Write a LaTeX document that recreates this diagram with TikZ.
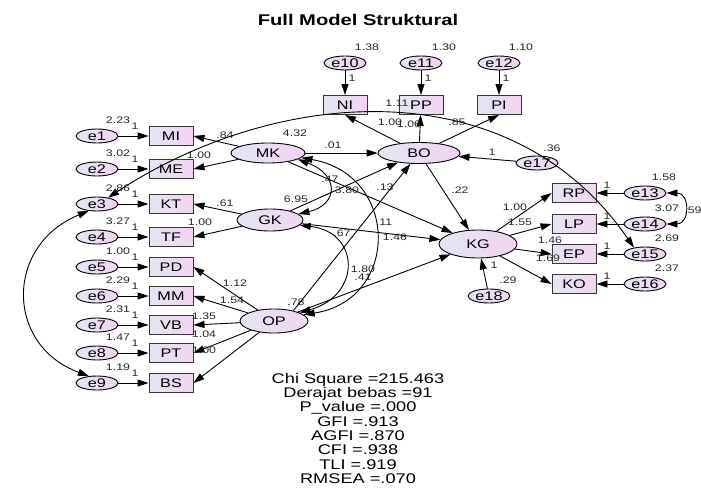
\documentclass[tikz,border=0pt]{standalone}
\usepackage{fontspec}
\setmainfont{Liberation Sans}[FakeStretch=1.3]
\usepackage{xcolor}
\definecolor{lavleft}{RGB}{228,230,242}
\definecolor{lavright}{RGB}{242,212,242}
\definecolor{boxgray}{RGB}{55,55,55}
\definecolor{numgray}{RGB}{40,40,40}
\usepackage{tikz}
\usetikzlibrary{arrows.meta, shapes.geometric, positioning}

\begin{document}
\begin{tikzpicture}[x=1pt, y=-1pt,
  latent/.style={ellipse, draw=black, line width=0.9pt, left color=lavleft, right color=lavright, inner sep=0pt, font=\fontsize{12.5}{14}\selectfont},
  obs/.style={draw=boxgray, line width=0.9pt, left color=lavleft, right color=lavright, minimum width=44pt, minimum height=19pt, inner sep=0pt, font=\fontsize{12.5}{14}\selectfont},
  err/.style={ellipse, draw=black, line width=0.9pt, left color=lavleft, right color=lavright, minimum width=42pt, minimum height=14pt, inner sep=0pt, font=\fontsize{12.5}{14}\selectfont},
  num/.style={font=\fontsize{9.5}{10}\selectfont, text=numgray, inner sep=0pt},
  reg/.style={->, line width=0.9pt},
  cov/.style={<->, line width=0.9pt},
  >={Triangle[length=11pt, width=7pt]}
]
\useasboundingbox (0,0) rectangle (701,487);
\node[font=\bfseries\fontsize{15.5}{17}\selectfont] (title) at (358,20) {Full Model Struktural};

% latent variables
\node[latent, minimum width=74pt, minimum height=20pt] (MK) at (268,153) {MK};
\node[latent, minimum width=82pt, minimum height=21pt] (BO) at (419,153) {BO};
\node[latent, minimum width=66pt, minimum height=22pt] (GK) at (270,220) {GK};
\node[latent, minimum width=78pt, minimum height=28pt] (KG) at (478,244) {KG};
\node[latent, minimum width=68pt, minimum height=24pt] (OP) at (274,321) {OP};

% left indicators
\node[obs] (MI) at (171,136) {MI};
\node[obs] (ME) at (171,169) {ME};
\node[obs] (KT) at (171,204) {KT};
\node[obs] (TF) at (171,237) {TF};
\node[obs] (PD) at (171,267) {PD};
\node[obs] (MM) at (171,296) {MM};
\node[obs] (VB) at (171,325) {VB};
\node[obs] (PT) at (171,353) {PT};
\node[obs] (BS) at (171,383) {BS};
\node[err] (e1) at (97,136) {e1};
\node[err] (e2) at (97,169) {e2};
\node[err] (e3) at (97,204) {e3};
\node[err] (e4) at (97,237) {e4};
\node[err] (e5) at (97,267) {e5};
\node[err] (e6) at (97,296) {e6};
\node[err] (e7) at (97,325) {e7};
\node[err] (e8) at (97,353) {e8};
\node[err] (e9) at (97,383) {e9};
\node[num] (v1) at (118,120) {2.23};
\node[num] (v2) at (118,153) {3.02};
\node[num] (v3) at (118,188) {2.86};
\node[num] (v4) at (118,221) {3.27};
\node[num] (v5) at (118,251) {1.00};
\node[num] (v6) at (118,280) {2.29};
\node[num] (v7) at (118,309) {2.31};
\node[num] (v8) at (118,337) {1.47};
\node[num] (v9) at (118,367) {1.19};
\draw[reg] (e1) -- (MI) node[num, at={(135,126)}] {1};
\draw[reg] (e2) -- (ME) node[num, at={(135,159)}] {1};
\draw[reg] (e3) -- (KT) node[num, at={(135,194)}] {1};
\draw[reg] (e4) -- (TF) node[num, at={(135,227)}] {1};
\draw[reg] (e5) -- (PD) node[num, at={(135,257)}] {1};
\draw[reg] (e6) -- (MM) node[num, at={(135,286)}] {1};
\draw[reg] (e7) -- (VB) node[num, at={(135,315)}] {1};
\draw[reg] (e8) -- (PT) node[num, at={(135,343)}] {1};
\draw[reg] (e9) -- (BS) node[num, at={(135,373)}] {1};

% top indicators
\node[obs] (NI) at (345,105) {NI};
\node[obs] (PP) at (421,105) {PP};
\node[obs] (PI) at (499,105) {PI};
\node[err] (e10) at (345,63) {e10};
\node[err] (e11) at (421,63) {e11};
\node[err] (e12) at (499,63) {e12};
\node[num] (v10) at (367,47) {1.38};
\node[num] (v11) at (444,47) {1.30};
\node[num] (v12) at (521,47) {1.10};
\draw[reg] (e10) -- (NI) node[num, at={(352,78)}] {1};
\draw[reg] (e11) -- (PP) node[num, at={(428,78)}] {1};
\draw[reg] (e12) -- (PI) node[num, at={(506,78)}] {1};

% right indicators
\node[obs] (RP) at (574,193) {RP};
\node[obs] (LP) at (574,224) {LP};
\node[obs] (EP) at (574,254) {EP};
\node[obs] (KO) at (574,284) {KO};
\node[err] (e13) at (645,193) {e13};
\node[err] (e14) at (645,224) {e14};
\node[err] (e15) at (645,254) {e15};
\node[err] (e16) at (645,284) {e16};
\node[num] (v13) at (664,177) {1.58};
\node[num] (v14) at (667,208) {3.07};
\node[num] (v15) at (667,238) {2.69};
\node[num] (v16) at (667,268) {2.37};
\draw[reg] (e13) -- (RP) node[num, at={(607,185)}] {1};
\draw[reg] (e14) -- (LP) node[num, at={(607,216)}] {1};
\draw[reg] (e15) -- (EP) node[num, at={(607,246)}] {1};
\draw[reg] (e16) -- (KO) node[num, at={(607,276)}] {1};

% residuals of endogenous
\node[err] (e17) at (537,163) {e17};
\node[err] (e18) at (489,296) {e18};
\node[num] (v17) at (552,148) {.36};
\node[num] (v18) at (508,280) {.29};
\draw[reg] (e17) -- (BO) node[num, at={(492,152)}] {1};
\draw[reg] (e18) -- (KG) node[num, at={(494,265)}] {1};

% exogenous variances
\node[num] (vMK) at (295,133) {4.32};
\node[num] (vGK) at (296,199) {6.95};
\node[num] (vOP) at (296,302) {.78};

% loadings
\draw[reg] (MK) -- (MI.east) node[num, at={(225,135)}] {.84};
\draw[reg] (MK) -- (ME.east) node[num, at={(199,155)}] {1.00};
\draw[reg] (GK) -- (KT.east) node[num, at={(225,203)}] {.61};
\draw[reg] (GK) -- (TF.east) node[num, at={(200,222)}] {1.00};
\draw[reg] (OP) -- (PD.east) node[num, at={(235,283)}] {1.12};
\draw[reg] (OP) -- (MM.east) node[num, at={(232,300)}] {1.54};
\draw[reg] (OP) -- (VB.east) node[num, at={(204,316)}] {1.35};
\draw[reg] (OP) -- (PT.east) node[num, at={(204,334)}] {1.04};
\draw[reg] (OP) -- (BS.east) node[num, at={(204,350)}] {1.00};
\draw[reg] (BO) -- (NI.south) node[num, at={(390,122)}] {1.00};
\draw[reg] (BO) -- (PP) node[num, at={(409,124)}] {1.06};
\draw[reg] (BO) -- (PI.south) node[num, at={(457,122)}] {.85};
\draw[reg] (KG) -- (RP.west) node[num, at={(515,207)}] {1.00};
\draw[reg] (KG) -- (LP.west) node[num, at={(520,222)}] {1.55};
\draw[reg] (KG) -- (EP.west) node[num, at={(550,240)}] {1.46};
\draw[reg] (KG) -- (KO.west) node[num, at={(548,258)}] {1.69};

% structural paths
\draw[reg] (MK) -- (BO) node[num, at={(333,145)}] {.01};
\draw[reg] (MK) -- (KG) node[num, at={(385,187)}] {.13};
\draw[reg] (GK) -- (BO) node[num, at={(347,190)}] {3.80};
\draw[reg] (GK) -- (KG) node[num, at={(395,237)}] {1.46};
\draw[reg] (OP.28) -- (BO) node[num, at={(342,233)}] {.67};
\draw[reg] (OP) -- (KG) node[num, at={(363,277)}] {.41};
\draw[reg] (BO) -- (KG) node[num, at={(460,190)}] {.22};

% covariances
\draw[cov] (MK.-12) .. controls (340,175) and (338,205) .. (GK.12) node[num, at={(330,179)}] {.47};
\draw[cov] (MK.-8) .. controls (400,175) and (400,300) .. (OP.12) node[num, at={(384,222)}] {.11};
\draw[cov] (GK.-10) .. controls (360,232) and (362,295) .. (OP.18) node[num, at={(363,269)}] {1.80};
\draw[cov] (e3.220) .. controls (5,245) and (5,345) .. (e9.140);
\draw[cov] (e3.30) .. controls (280,85) and (512,70) .. (e15.150) node[num, at={(397,103)}] {1.11};
\draw[cov] (e13.east) .. controls (690,193) and (690,224) .. (e14.east) node[num, at={(693,210)}] {.59};

% fit statistics
\node[anchor=north, align=center, inner sep=0pt, font=\fontsize{14}{14.3}\selectfont] (fit) at (358,373)
  {Chi Square =215.463\\Derajat bebas =91\\P\_value =.000\\GFI =.913\\AGFI =.870\\CFI =.938\\TLI =.919\\RMSEA =.070};
\end{tikzpicture}
\end{document}
